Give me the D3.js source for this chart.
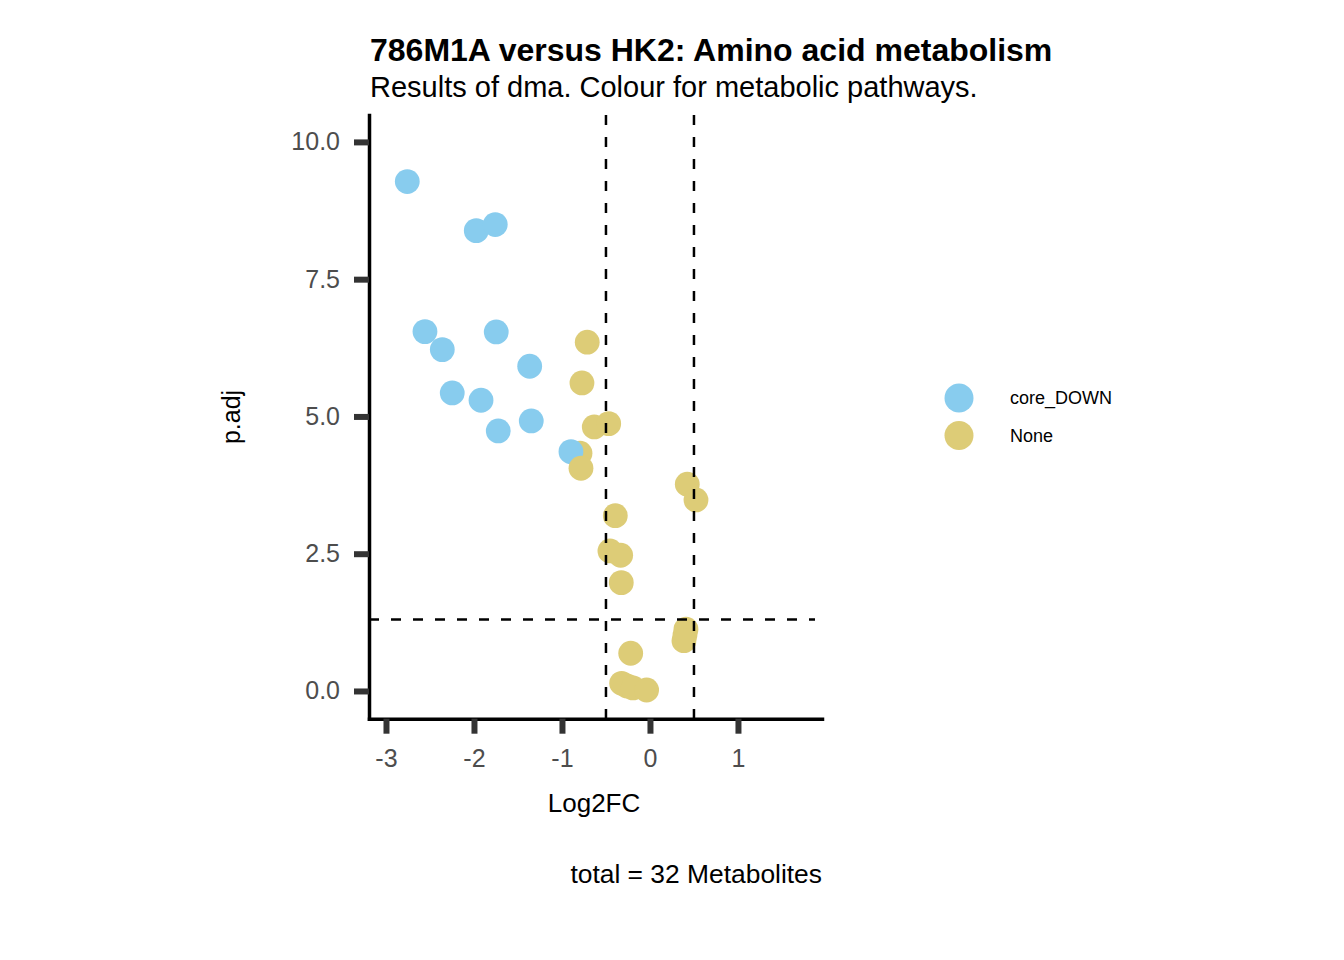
<!DOCTYPE html>
<html>
<head>
<meta charset="utf-8">
<script src="https://cdn.jsdelivr.net/npm/d3@7"></script>
<style>
  body { margin: 0; background: #fff; }
  svg { font-family: "Liberation Sans", Arial, Helvetica, sans-serif; }
</style>
</head>
<body>
<script>
// Data, in drawing order

var log2fc = [-0.261, 0.398, -0.795,
  -2.758, -1.974, -1.758, -2.557, -2.360, -1.747, -1.367, -2.247, -1.920, -1.724, -1.349, -0.898,
  -0.713, -0.773, -0.633, -0.469, -0.784, 0.424, 0.523, -0.394, -0.455, -0.333, -0.326,
  0.409, 0.386, -0.219, -0.322, -0.193, -0.038];

var padj = [0.091, 1.020, 4.330,
  9.277, 8.384, 8.494, 6.545, 6.217, 6.539, 5.914, 5.428, 5.295, 4.736, 4.918, 4.359,
  6.352, 5.610, 4.809, 4.869, 4.056, 3.765, 3.479, 3.193, 2.550, 2.472, 1.973,
  1.124, 0.916, 0.687, 0.140, 0.055, 0.018];

var pathway = ["None", "None", "None",
  "core_DOWN", "core_DOWN", "core_DOWN", "core_DOWN", "core_DOWN", "core_DOWN", "core_DOWN",
  "core_DOWN", "core_DOWN", "core_DOWN", "core_DOWN", "core_DOWN",
  "None", "None", "None", "None", "None", "None", "None", "None", "None", "None", "None",
  "None", "None", "None", "None", "None", "None"];

var groups = ["core_DOWN", "None"],
    colours = ["#88CCEE", "#DDCC77"];

var xTicks = [-3, -2, -1, 0, 1],
    yTicks = [0, 2.5, 5, 7.5, 10],
    fcCut = [-0.5, 0.5],
    pCut = -Math.log10(0.05);

var title = "786M1A versus HK2: Amino acid metabolism",
    subtitle = "Results of dma. Colour for metabolic pathways.",
    caption = "total = " + log2fc.length + " Metabolites";

// Layout

var W = 1344, H = 960;
var panel = {left: 369, right: 822, top: 115, bottom: 718.7};

var svg = d3.select("body").append("svg")
  .attr("width", W).attr("height", H);

var x = d3.scaleLinear().domain([-3.193, 1.955]).range([panel.left, panel.right]);
var y = d3.scaleLinear().domain([-0.505, 10.49]).range([panel.bottom, panel.top]);
var colour = d3.scaleOrdinal().domain(groups).range(colours);

var pts = d3.range(log2fc.length).map(function(i){
  return {fc: log2fc[i], p: padj[i], g: pathway[i]};
});

// points

svg.append("g").selectAll("circle").data(pts).enter().append("circle")
  .attr("cx", function(d){ return x(d.fc); })
  .attr("cy", function(d){ return y(d.p); })
  .attr("r", 12.4)
  .style("fill", function(d){ return colour(d.g); });

// threshold lines

svg.append("g").selectAll("line").data(fcCut).enter().append("line")
  .attr("x1", function(d){ return x(d); }).attr("x2", function(d){ return x(d); })
  .attr("y1", panel.top).attr("y2", panel.bottom)
  .style("stroke", "black").style("stroke-width", 2.5).style("stroke-dasharray", "10,12");

svg.append("line")
  .attr("x1", panel.left).attr("x2", 815)
  .attr("y1", y(pCut)).attr("y2", y(pCut))
  .style("stroke", "black").style("stroke-width", 2.5).style("stroke-dasharray", "10,12");

// axes

var yAxis = svg.append("g")
  .attr("transform", "translate(" + panel.left + ",0)")
  .call(d3.axisLeft(y).tickValues(yTicks).tickSize(15).tickSizeOuter(0).tickPadding(14)
    .tickFormat(d3.format(".1f")));

var xAxis = svg.append("g")
  .attr("transform", "translate(0," + panel.bottom + ")")
  .call(d3.axisBottom(x).tickValues(xTicks).tickSize(15).tickSizeOuter(0).tickPadding(16)
    .tickFormat(function(d){ return String(d); }));

[xAxis, yAxis].forEach(function(a){
  a.select(".domain").style("stroke", "black").style("stroke-width", 3.5).style("stroke-linecap", "square");
  a.selectAll(".tick line").style("stroke", "#333333").style("stroke-width", 6);
  a.selectAll(".tick text").style("font-size", "25px").style("fill", "#4d4d4d")
    .style("font-family", "'Liberation Sans', Arial, Helvetica, sans-serif");
});

// titles

svg.append("text").attr("x", 370).attr("y", 61)
  .style("font-size", "32px").style("font-weight", "bold").text(title);

svg.append("text").attr("x", 370).attr("y", 97)
  .style("font-size", "29px").text(subtitle);

svg.append("text").attr("x", 594).attr("y", 812).attr("text-anchor", "middle")
  .style("font-size", "26px").text("Log2FC");

svg.append("text").attr("transform", "translate(240,417)rotate(-90)").attr("text-anchor", "middle")
  .style("font-size", "25px").text("p.adj");

svg.append("text").attr("x", 822).attr("y", 883).attr("text-anchor", "end")
  .style("font-size", "26.4px").text(caption);

// legend

var legend = svg.append("g").selectAll("g").data(groups).enter().append("g")
  .attr("transform", function(d, i){ return "translate(959," + (398 + i * 37.5) + ")"; });

legend.append("circle").attr("r", 14.5).style("fill", function(d){ return colour(d); });

legend.append("text").attr("x", 51).attr("dy", "0.35em")
  .style("font-size", "18px").text(function(d){ return d; });
</script>
</body>
</html>
